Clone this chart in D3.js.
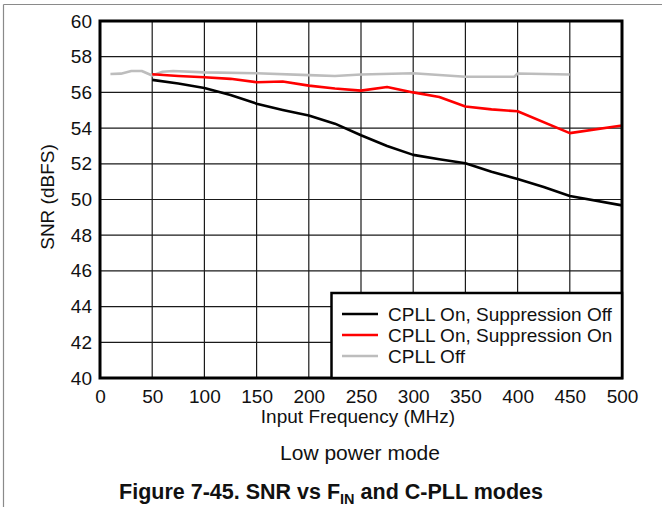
<!DOCTYPE html>
<html>
<head>
<meta charset="utf-8">
<script src="https://cdn.jsdelivr.net/npm/d3@7/dist/d3.min.js"></script>
<style>
  html, body { margin: 0; padding: 0; background: #fff; }
  svg { display: block; font-family: "Liberation Sans", Arial, sans-serif; }
</style>
</head>
<body>
<svg id="chart" width="662" height="507"></svg>
<script>
// SNR vs input frequency, low power mode
const xTicks = [0, 50, 100, 150, 200, 250, 300, 350, 400, 450, 500];
const yTicks = [40, 42, 44, 46, 48, 50, 52, 54, 56, 58, 60];

const seriesNames = ["CPLL On, Suppression Off", "CPLL On, Suppression On", "CPLL Off"];

const freqSupOff = [50, 75, 100, 125, 150, 175, 200, 225, 250, 275, 300, 325, 350, 375, 400, 425, 450, 500];
const snrSupOff  = [56.7, 56.5, 56.25, 55.85, 55.37, 55.02, 54.7, 54.25, 53.6, 53.0, 52.5, 52.25, 52.03, 51.55, 51.15, 50.7, 50.2, 49.67];

const freqSupOn = [50, 75, 100, 125, 150, 175, 200, 225, 250, 275, 300, 325, 350, 375, 400, 450, 500];
const snrSupOn  = [57.02, 56.92, 56.85, 56.76, 56.57, 56.61, 56.38, 56.22, 56.1, 56.3, 56.0, 55.74, 55.21, 55.05, 54.94, 53.72, 54.15];

const freqOff = [10, 20, 30, 40, 50, 60, 70, 100, 150, 200, 225, 250, 300, 350, 397, 400, 450];
const snrOff  = [57.03, 57.05, 57.2, 57.2, 56.95, 57.16, 57.2, 57.12, 57.07, 56.97, 56.92, 57.0, 57.07, 56.88, 56.88, 57.06, 57.0];

const colors = ["#000000", "#ff0000", "#bdbdbd"];

const svg = d3.select("#chart");
const plotL = 100, plotR = 622, plotT = 21, plotB = 378;

const x = d3.scaleLinear().domain([0, 500]).range([plotL, plotR]);
const y = d3.scaleLinear().domain([40, 60]).range([plotB, plotT]);

// outer page frame (top and left rules)
svg.append("line").attr("x1", 3.5).attr("x2", 662).attr("y1", 4.5).attr("y2", 4.5)
  .attr("stroke", "#8a8a8a").attr("stroke-width", 1.2);
svg.append("line").attr("x1", 3.5).attr("x2", 3.5).attr("y1", 4.5).attr("y2", 507)
  .attr("stroke", "#8a8a8a").attr("stroke-width", 1.2);

// grid
const grid = svg.append("g").attr("stroke", "#1a1a1a").attr("stroke-width", 1.2);
grid.selectAll("line.v").data(xTicks.slice(1, -1)).join("line").attr("class", "v")
  .attr("x1", d => x(d)).attr("x2", d => x(d)).attr("y1", plotT).attr("y2", plotB);
grid.selectAll("line.h").data(yTicks.slice(1, -1)).join("line").attr("class", "h")
  .attr("x1", plotL).attr("x2", plotR).attr("y1", d => y(d)).attr("y2", d => y(d));

// axes (labels only; frame drawn separately)
const xAxis = svg.append("g").attr("transform", `translate(0,${plotB})`)
  .call(d3.axisBottom(x).tickValues(xTicks).tickSize(0).tickPadding(12));
const yAxis = svg.append("g").attr("transform", `translate(${plotL},0)`)
  .call(d3.axisLeft(y).tickValues(yTicks).tickSize(0).tickPadding(8));
[xAxis, yAxis].forEach(a => {
  a.select(".domain").remove();
  a.selectAll("text").attr("font-size", 19).attr("fill", "#111")
    .attr("font-family", "'Liberation Sans', Arial, sans-serif");
});

// series lines
const line = d3.line().x(d => x(d[0])).y(d => y(d[1]));
const series = [
  d3.zip(freqOff, snrOff),
  d3.zip(freqSupOn, snrSupOn),
  d3.zip(freqSupOff, snrSupOff)
];
const seriesColors = [colors[2], colors[1], colors[0]];
series.forEach((s, i) => {
  svg.append("path").datum(s).attr("d", line)
    .attr("fill", "none").attr("stroke", seriesColors[i])
    .attr("stroke-width", 2.6).attr("stroke-linejoin", "round");
});

// plot frame
svg.append("rect").attr("x", plotL).attr("y", plotT)
  .attr("width", plotR - plotL).attr("height", plotB - plotT)
  .attr("fill", "none").attr("stroke", "#000").attr("stroke-width", 3);

// legend
const lg = svg.append("g");
lg.append("rect").attr("x", 331.5).attr("y", 293).attr("width", plotR - 331.5).attr("height", plotB - 293)
  .attr("fill", "#fff").attr("stroke", "#000").attr("stroke-width", 2.5);
seriesNames.forEach((name, i) => {
  const cy = 314 + i * 21;
  lg.append("line").attr("x1", 342).attr("x2", 378).attr("y1", cy).attr("y2", cy)
    .attr("stroke", colors[i]).attr("stroke-width", 2.6);
  lg.append("text").attr("x", 388).attr("y", cy).attr("dy", "0.36em")
    .attr("font-size", 19).attr("fill", "#111").text(name);
});

// axis titles
svg.append("text").attr("x", 358).attr("y", 423)
  .attr("text-anchor", "middle").attr("font-size", 19).attr("fill", "#111")
  .text("Input Frequency (MHz)");
svg.append("text").attr("transform", `translate(54,197) rotate(-90)`)
  .attr("text-anchor", "middle").attr("font-size", 19).attr("fill", "#111")
  .text("SNR (dBFS)");

// subtitle and caption
svg.append("text").attr("x", 360).attr("y", 460)
  .attr("text-anchor", "middle").attr("font-size", 21).attr("fill", "#111")
  .text("Low power mode");
const cap = svg.append("text").attr("x", 331).attr("y", 499)
  .attr("text-anchor", "middle").attr("font-size", 21.5).attr("font-weight", "bold").attr("fill", "#111");
cap.append("tspan").text("Figure 7-45. SNR vs F");
cap.append("tspan").attr("font-size", 14.5).attr("dy", 5).text("IN");
cap.append("tspan").attr("dy", -5).text(" and C-PLL modes");
</script>
</body>
</html>
